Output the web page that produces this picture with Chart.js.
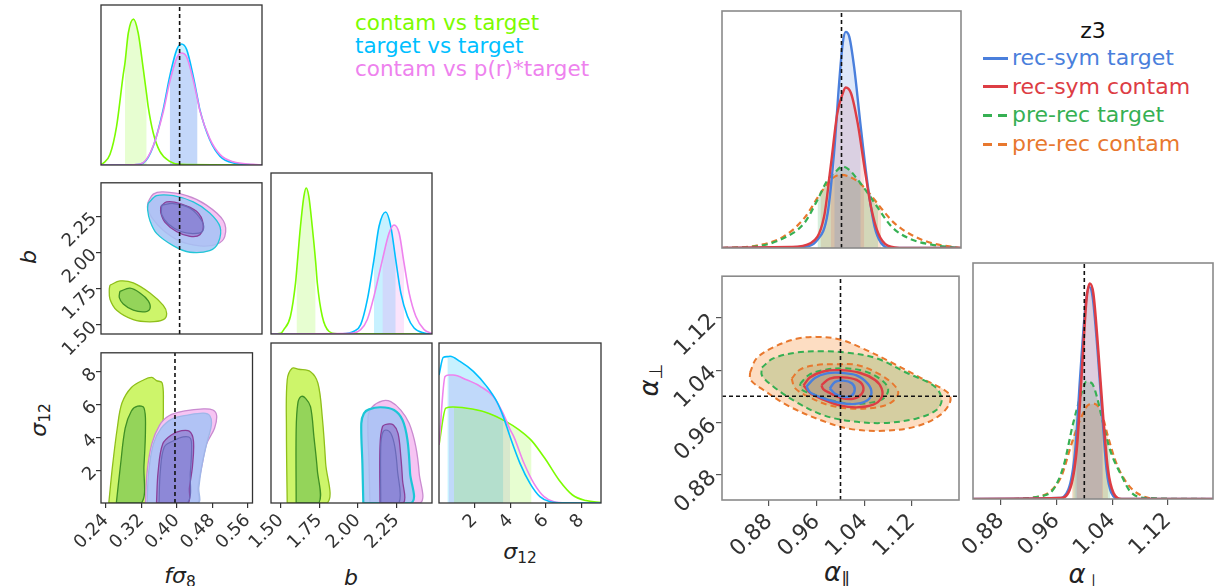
<!DOCTYPE html>
<html>
<head>
<meta charset="utf-8">
<script src="https://cdn.jsdelivr.net/npm/chart.js@4.4.1/dist/chart.umd.min.js"></script>
<style>
  html, body { margin: 0; padding: 0; background: #fff; }
  body { position: relative; width: 1223px; height: 586px; overflow: hidden; font-family: "DejaVu Sans", sans-serif; }
  .panel { position: absolute; }
  .txt { position: absolute; white-space: nowrap; color: #222; }
  .lab { position: absolute; white-space: nowrap; color: #222; transform: translate(-50%, -50%); }
  .lab.rot { transform: translate(-50%, -50%) rotate(-90deg); }
  .lab sub { font-size: 70%; vertical-align: -0.25em; font-style: normal; }
  .leg-l { left: 355px; top: 11px; font-size: 21.5px; line-height: 23px; }
  .leg-r { left: 983px; top: 44px; font-size: 22px; line-height: 28.7px; }
  .mk { display: inline-block; width: 25px; height: 3px; vertical-align: middle; margin-right: 4px; position: relative; top: -1px; }
</style>
</head>
<body>

<div class="txt leg-l">
  <div style="color:#7cfc00">contam vs target</div>
  <div style="color:#00bfff">target vs target</div>
  <div style="color:#ee82ee">contam vs p(r)*target</div>
</div>

<div class="lab" style="left:1093px;top:30px;font-size:22px;color:#111">z3</div>
<div class="txt leg-r">
  <div style="color:#4a7fdc"><span class="mk" style="background:#4a7fdc"></span>rec-sym target</div>
  <div style="color:#dd3d44"><span class="mk" style="background:#dd3d44"></span>rec-sym contam</div>
  <div style="color:#36b053"><span class="mk" style="background:repeating-linear-gradient(90deg,#36b053 0 9px,transparent 9px 15px)"></span>pre-rec target</div>
  <div style="color:#e8782e"><span class="mk" style="background:repeating-linear-gradient(90deg,#e8782e 0 9px,transparent 9px 15px)"></span>pre-rec contam</div>
</div>

<div class="lab" style="left:180px;top:577px;font-size:22px"><i>fσ</i><sub>8</sub></div>
<div class="lab" style="left:351px;top:577px;font-size:22px"><i>b</i></div>
<div class="lab" style="left:520px;top:553px;font-size:22px"><i>σ</i><sub>12</sub></div>
<div class="lab rot" style="left:28px;top:257px;font-size:22px"><i>b</i></div>
<div class="lab rot" style="left:40px;top:420px;font-size:22px"><i>σ</i><sub>12</sub></div>
<div class="lab rot" style="left:650px;top:380px;font-size:26px"><i>α</i><sub>⊥</sub></div>
<div class="lab" style="left:837px;top:573px;font-size:26px"><i>α</i><sub>∥</sub></div>
<div class="lab" style="left:1085px;top:575px;font-size:26px"><i>α</i><sub>⊥</sub></div>

<script>
// ---- axis ranges and ticks ----
const fsRange = [0.229, 0.571], bRange = [1.437, 2.48], s12RangeY = [0, 9.14], s12RangeX = [0, 9.1];
const aparRange = [0.801, 1.199], aperpRange = [0.841, 1.184], aperpRangeX = [0.84, 1.185];
const fsTicks = [0.24, 0.32, 0.40, 0.48, 0.56];
const bTicks = [1.50, 1.75, 2.00, 2.25];
const s12Ticks = [2, 4, 6, 8];
const alphaTicks = [0.88, 0.96, 1.04, 1.12];
const fsTruth = 0.396, alphaTruth = 1.0;

// ---- 1D: f sigma8 ----
const fsGreenX = [0.229, 0.234, 0.248, 0.262, 0.276, 0.280, 0.287, 0.298, 0.308, 0.319, 0.326, 0.329, 0.340, 0.354, 0.375, 0.397, 0.571];
const fsGreenY = [0.003, 0.012, 0.065, 0.24, 0.56, 0.64, 0.825, 0.912, 0.825, 0.596, 0.44, 0.37, 0.2, 0.085, 0.023, 0.004, 0];
const fsX = [0.229, 0.300, 0.319, 0.340, 0.361, 0.375, 0.390, 0.400, 0.411, 0.425, 0.434, 0.439, 0.460, 0.482, 0.510, 0.552, 0.571];
const fsBlueY = [0, 0.001, 0.0125, 0.117, 0.346, 0.554, 0.721, 0.756, 0.721, 0.554, 0.42, 0.346, 0.158, 0.054, 0.0125, 0.002, 0];
const fsPinkY = [0, 0.002, 0.015, 0.12, 0.33, 0.52, 0.67, 0.70, 0.675, 0.53, 0.41, 0.34, 0.165, 0.065, 0.02, 0.004, 0];

// ---- 1D: b ----
const bGreenX = [1.437, 1.50, 1.52, 1.563, 1.596, 1.602, 1.628, 1.65, 1.665, 1.682, 1.704, 1.726, 1.737, 1.769, 1.812, 1.867, 2.48];
const bGreenY = [0, 0.004, 0.027, 0.11, 0.317, 0.38, 0.669, 0.855, 0.907, 0.855, 0.669, 0.45, 0.317, 0.11, 0.017, 0.002, 0];
const bBlueX = [1.437, 1.90, 1.975, 2.018, 2.061, 2.104, 2.137, 2.180, 2.213, 2.245, 2.278, 2.321, 2.364, 2.429, 2.48];
const bBlueY = [0, 0.001, 0.017, 0.058, 0.213, 0.462, 0.669, 0.758, 0.669, 0.462, 0.255, 0.11, 0.037, 0.006, 0.001];
const bPinkX = [1.437, 1.95, 2.018, 2.061, 2.104, 2.159, 2.202, 2.234, 2.267, 2.299, 2.332, 2.375, 2.429, 2.48];
const bPinkY = [0, 0.004, 0.027, 0.09, 0.234, 0.462, 0.627, 0.677, 0.627, 0.44, 0.255, 0.11, 0.027, 0.003];

// ---- 1D: sigma12 ----
const sBlueX = [0, 0.24, 0.47, 0.62, 1.18, 1.93, 2.68, 3.24, 3.61, 3.99, 4.55, 5.11, 5.67, 6.24, 7.0, 9.1];
const sBlueY = [0.8, 0.91, 0.915, 0.917, 0.885, 0.823, 0.729, 0.635, 0.54, 0.415, 0.248, 0.123, 0.04, 0.008, 0.001, 0];
const sPinkX = [0, 0.34, 0.56, 0.8, 1.55, 2.3, 3.05, 3.6, 3.99, 4.2, 4.77, 5.33, 5.9, 6.46, 7.2, 9.1];
const sPinkY = [0.363, 0.79, 0.80, 0.80, 0.77, 0.73, 0.666, 0.56, 0.46, 0.415, 0.25, 0.123, 0.04, 0.008, 0.001, 0];
const sGreenX = [0, 0.38, 0.75, 0.84, 1.87, 2.81, 3.75, 4.5, 5.2, 6.0, 6.74, 7.5, 8.25, 9.1];
const sGreenY = [0.363, 0.593, 0.6, 0.6, 0.587, 0.56, 0.51, 0.457, 0.39, 0.27, 0.144, 0.05, 0.015, 0.002];

// ---- 2D: b vs f sigma8 ----
const bfGreenOut = [[0.2481,1.774],[0.2693,1.803],[0.2976,1.790],[0.333,1.720],[0.3613,1.634],[0.3685,1.579],[0.3613,1.536],[0.333,1.521],[0.2976,1.536],[0.2623,1.601],[0.2481,1.677],[0.2466,1.742]];
const bfGreenIn = [[0.269,1.731],[0.2906,1.753],[0.3118,1.720],[0.3294,1.666],[0.333,1.612],[0.3224,1.590],[0.2976,1.601],[0.2763,1.644],[0.2679,1.688]];
const bfBlueOut = [[0.329,2.337],[0.347,2.391],[0.383,2.391],[0.425,2.348],[0.460,2.272],[0.482,2.175],[0.478,2.066],[0.460,2.012],[0.418,2.001],[0.383,2.045],[0.347,2.131],[0.333,2.218],[0.328,2.294]];
const bfPinkOut = [[0.329,2.348],[0.340,2.402],[0.361,2.417],[0.411,2.391],[0.453,2.326],[0.489,2.218],[0.492,2.110],[0.475,2.056],[0.439,2.045],[0.397,2.077],[0.361,2.153],[0.337,2.240],[0.328,2.305]];
const bfBlueIn = [[0.358,2.326],[0.383,2.337],[0.418,2.305],[0.443,2.218],[0.446,2.153],[0.432,2.131],[0.400,2.142],[0.372,2.196],[0.358,2.261]];
const bfPinkIn = [[0.356,2.316],[0.368,2.348],[0.397,2.337],[0.432,2.283],[0.446,2.196],[0.439,2.121],[0.418,2.110],[0.390,2.142],[0.365,2.207],[0.356,2.272]];

// ---- 2D: sigma12 vs f sigma8 ----
const sfGreenOut = [[0.2466,0],[0.2551,2.27],[0.2657,4.55],[0.2763,6.08],[0.2976,7.03],[0.3260,7.50],[0.3437,7.64],[0.3543,7.45],[0.3670,7.31],[0.3698,6.08],[0.3685,4.17],[0.3670,1.89],[0.3670,0]];
const sfGreenIn = [[0.2636,0],[0.2729,2.27],[0.2836,4.55],[0.2976,5.6],[0.3118,5.89],[0.326,5.79],[0.3294,4.55],[0.326,2.27],[0.3203,0]];
const sfPinkOut = [[0.3294,0],[0.333,1.89],[0.3437,3.6],[0.3613,4.74],[0.3825,5.31],[0.418,5.6],[0.4604,5.73],[0.4817,5.66],[0.4901,5.31],[0.4853,4.55],[0.4675,3.6],[0.4568,2.27],[0.4477,0.93],[0.4462,0]];
const sfBlueOut = [[0.333,0],[0.3366,1.89],[0.3473,3.6],[0.3649,4.55],[0.3897,5.12],[0.4250,5.35],[0.4604,5.47],[0.4747,5.31],[0.4781,4.74],[0.4675,3.6],[0.4568,2.27],[0.4498,0.93],[0.4477,0]];
const sfPinkIn = [[0.3543,0],[0.3579,1.89],[0.3685,3.6],[0.3897,4.17],[0.411,4.4],[0.4286,4.36],[0.4377,3.79],[0.4356,2.27],[0.4286,0.93],[0.425,0]];
const sfBlueIn = [[0.36,0],[0.3628,1.89],[0.3719,3.41],[0.3931,3.79],[0.4144,4.02],[0.4307,3.94],[0.4335,3.22],[0.4307,1.89],[0.4237,0]];

// ---- 2D: sigma12 vs b ----
const sbGreenOut = [[1.542,0],[1.537,4.17],[1.542,7.03],[1.574,7.7],[1.617,7.64],[1.693,7.5],[1.741,6.84],[1.769,4.93],[1.791,2.27],[1.802,0]];
const sbGreenIn = [[1.6,0],[1.6,4.17],[1.611,5.7],[1.632,6.08],[1.661,5.98],[1.693,5.5],[1.715,3.79],[1.737,1.89],[1.747,0]];
const sbBlueOut = [[2.035,0],[2.029,2.27],[2.022,4.55],[2.039,5.12],[2.072,5.35],[2.148,5.47],[2.234,5.31],[2.289,4.74],[2.321,3.6],[2.338,1.7],[2.347,0]];
const sbPinkOut = [[2.078,0],[2.072,2.27],[2.066,4.93],[2.094,5.5],[2.159,5.84],[2.213,5.79],[2.278,5.31],[2.332,4.55],[2.375,3.22],[2.397,1.7],[2.403,0]];
const sbPinkIn = [[2.143,0],[2.143,3.22],[2.159,4.36],[2.191,4.51],[2.23,4.46],[2.26,3.98],[2.278,2.65],[2.289,1.31],[2.295,0]];
const sbBlueIn = [[2.148,0],[2.148,3.22],[2.159,3.98],[2.181,4.17],[2.213,3.98],[2.239,3.22],[2.256,1.89],[2.266,0]];

// ---- right: 1D alpha_par ----
const apBlueX = [0.801, 0.932, 0.960, 0.977, 0.988, 0.996, 1.002, 1.007, 1.013, 1.021, 1.032, 1.044, 1.055, 1.066, 1.083, 1.199];
const apBlueY = [0, 0.004, 0.035, 0.147, 0.414, 0.694, 0.863, 0.912, 0.891, 0.764, 0.512, 0.259, 0.091, 0.021, 0, 0];
const apRedX = [0.801, 0.915, 0.949, 0.971, 0.982, 0.993, 1.002, 1.007, 1.016, 1.027, 1.038, 1.049, 1.061, 1.077, 1.105, 1.199];
const apRedY = [0, 0.004, 0.021, 0.133, 0.344, 0.568, 0.652, 0.677, 0.652, 0.526, 0.344, 0.175, 0.063, 0.01, 0, 0];
const apGreenX = [0.801, 0.859, 0.904, 0.938, 0.960, 0.977, 0.988, 1.002, 1.013, 1.027, 1.044, 1.061, 1.083, 1.111, 1.150, 1.199];
const apGreenY = [0, 0.007, 0.042, 0.105, 0.203, 0.288, 0.316, 0.344, 0.33, 0.288, 0.231, 0.168, 0.091, 0.042, 0.014, 0];
const apOrangeX = [0.801, 0.859, 0.904, 0.938, 0.965, 0.982, 0.999, 1.010, 1.027, 1.044, 1.066, 1.088, 1.116, 1.150, 1.199];
const apOrangeY = [0, 0.01, 0.049, 0.126, 0.231, 0.288, 0.309, 0.304, 0.281, 0.238, 0.168, 0.105, 0.056, 0.021, 0];

// ---- right: 1D alpha_perp ----
const aqRedX = [0.84, 0.965, 0.979, 0.989, 0.996, 1.003, 1.008, 1.013, 1.020, 1.027, 1.034, 1.042, 1.054, 1.185];
const aqRedY = [0, 0.004, 0.039, 0.208, 0.518, 0.842, 0.913, 0.870, 0.631, 0.349, 0.124, 0.025, 0, 0];
const aqBlueX = [0.84, 0.963, 0.977, 0.987, 0.994, 1.002, 1.007, 1.012, 1.019, 1.026, 1.032, 1.039, 1.051, 1.185];
const aqBlueY = [0, 0.004, 0.039, 0.208, 0.518, 0.828, 0.899, 0.856, 0.631, 0.349, 0.124, 0.025, 0, 0];
const aqGreenX = [0.84, 0.888, 0.936, 0.955, 0.970, 0.984, 0.996, 1.003, 1.011, 1.018, 1.027, 1.037, 1.054, 1.066, 1.090, 1.185];
const aqGreenY = [0, 0, 0.011, 0.039, 0.138, 0.321, 0.448, 0.497, 0.49, 0.434, 0.321, 0.208, 0.096, 0.032, 0.004, 0];
const aqOrangeX = [0.84, 0.888, 0.931, 0.951, 0.967, 0.982, 0.996, 1.006, 1.015, 1.025, 1.034, 1.046, 1.061, 1.080, 1.109, 1.185];
const aqOrangeY = [0, 0, 0.008, 0.032, 0.096, 0.237, 0.349, 0.399, 0.403, 0.363, 0.265, 0.152, 0.068, 0.018, 0, 0];

// ---- right: 2D alpha_perp vs alpha_par ----
const aaOrangeOut = [[0.848,1.036],[0.859,1.058],[0.887,1.075],[0.926,1.088],[0.960,1.091],[0.999,1.087],[1.038,1.073],[1.083,1.053],[1.133,1.029],[1.181,1.005],[1.184,0.991],[1.167,0.971],[1.128,0.954],[1.072,0.947],[1.016,0.950],[0.971,0.962],[0.915,0.984],[0.870,1.010],[0.849,1.025]];
const aaGreenOut = [[0.868,1.044],[0.887,1.058],[0.926,1.067],[0.971,1.069],[1.010,1.067],[1.061,1.058],[1.111,1.036],[1.158,1.015],[1.170,0.995],[1.161,0.979],[1.128,0.966],[1.072,0.959],[1.016,0.962],[0.971,0.971],[0.926,0.991],[0.887,1.015],[0.868,1.032]];
const aaOrangeIn = [[0.918,1.027],[0.932,1.041],[0.960,1.048],[0.993,1.049],[1.027,1.048],[1.061,1.036],[1.088,1.019],[1.097,1.005],[1.086,0.991],[1.061,0.983],[1.021,0.981],[0.982,0.986],[0.949,0.998],[0.924,1.012]];
const aaGreenIn = [[0.932,1.019],[0.949,1.034],[0.977,1.041],[1.005,1.043],[1.038,1.039],[1.066,1.027],[1.080,1.012],[1.074,0.998],[1.055,0.991],[1.021,0.988],[0.988,0.993],[0.954,1.003],[0.935,1.010]];
const aaRedOut = [[0.938,1.017],[0.949,1.029],[0.971,1.038],[0.999,1.040],[1.032,1.036],[1.058,1.025],[1.069,1.012],[1.069,0.998],[1.055,0.987],[1.027,0.983],[0.999,0.986],[0.971,0.995],[0.949,1.005]];
const aaBlueOut = [[0.943,1.015],[0.957,1.028],[0.977,1.035],[0.999,1.036],[1.027,1.032],[1.046,1.019],[1.052,1.005],[1.044,0.993],[1.021,0.988],[0.993,0.991],[0.968,0.998],[0.949,1.006]];
const aaRedIn = [[0.968,1.017],[0.982,1.027],[1.005,1.029],[1.027,1.025],[1.038,1.015],[1.035,1.003],[1.021,0.996],[0.999,0.998],[0.982,1.005],[0.971,1.011]];
const aaBlueIn = [[0.982,1.012],[0.991,1.022],[1.005,1.024],[1.019,1.020],[1.024,1.011],[1.019,1.001],[1.005,0.999],[0.991,1.004]];

// ---- colours ----
const C = {
  lime: "#7cfc00", sky: "#00bfff", violet: "#ee82ee",
  blue: "#4a7fdc", red: "#dd3d44", green: "#36b053", orange: "#e8782e",
};

// ---- dataset helpers ----
const xy = (xs, ys) => xs.map((x, i) => ({ x, y: ys[i] }));
const closed = (a) => a.concat([a[0]]).map(([x, y]) => ({ x, y }));
const base = { showLine: true, pointRadius: 0, pointHoverRadius: 0 };

function curve(xs, ys, color, w, dash) {
  return { ...base, data: xy(xs, ys), borderColor: color, borderWidth: w, borderDash: dash || [], fill: false, cubicInterpolationMode: "monotone" };
}
function band(xs, ys, lo, hi, color) {
  const d = xy(xs, ys).filter(p => p.x >= lo - 1e-9 && p.x <= hi + 1e-9);
  return { ...base, data: d, borderWidth: 0, borderColor: "transparent", backgroundColor: color, fill: "origin", cubicInterpolationMode: "monotone" };
}
function contour(a, line, fillc, w, dash) {
  return { ...base, data: closed(a), borderColor: line, backgroundColor: fillc, borderWidth: w, borderDash: dash || [], fill: "shape", tension: 0.35 };
}
function vline(v, r) {
  return { ...base, data: [{ x: v, y: r[0] }, { x: v, y: r[1] }], borderColor: "#111", borderWidth: 1.6, borderDash: [4, 3], fill: false, tension: 0 };
}
function hline(v, r) {
  return { ...base, data: [{ x: r[0], y: v }, { x: r[1], y: v }], borderColor: "#111", borderWidth: 1.6, borderDash: [4, 3], fill: false, tension: 0 };
}

// ---- full box round each panel ----
const frame = {
  id: "frame",
  afterDatasetsDraw(ch, args, o) {
    const a = ch.chartArea, g = ch.ctx;
    g.save();
    g.strokeStyle = o.color; g.lineWidth = o.width;
    g.strokeRect(a.left, a.top, a.right - a.left, a.bottom - a.top);
    g.restore();
  },
};

const ML = 80, MB = 80, MT = 3, MR = 3;
function axis(a, horiz) {
  return {
    type: "linear", min: a.range[0], max: a.range[1],
    afterFit: (s) => { if (horiz) s.height = MB; else s.width = ML; },
    afterBuildTicks: (s) => { s.ticks = (a.ticks || []).map(v => ({ value: v })); },
    border: { display: false },
    grid: { display: !!a.ticks, drawOnChartArea: false, drawTicks: true, tickLength: a.tickLen || 5, color: a.tickColor || "#333", lineWidth: 1.2 },
    ticks: {
      display: !!a.fmt, minRotation: 45, maxRotation: 45, padding: a.pad || 2,
      color: "#333", font: { family: "DejaVu Sans", size: a.font || 18 },
      callback: (v) => a.fmt ? a.fmt(v) : "",
    },
  };
}
function panel(rect, x, y, sets, frameStyle) {
  const [L, T, W, H] = rect;
  const wrap = document.createElement("div");
  wrap.className = "panel";
  wrap.style.left = (L - ML) + "px";
  wrap.style.top = (T - MT) + "px";
  const cv = document.createElement("canvas");
  cv.width = W + ML + MR; cv.height = H + MT + MB;
  wrap.appendChild(cv);
  document.body.appendChild(wrap);
  new Chart(cv, {
    type: "line",
    data: { datasets: sets.slice().reverse() },  // first listed = bottom layer
    options: {
      responsive: false, animation: false, events: [], devicePixelRatio: 1,
      layout: { padding: { top: MT, right: MR, left: 0, bottom: 0 } },
      plugins: { legend: { display: false }, tooltip: { enabled: false }, frame: frameStyle },
      scales: { x: axis(x, true), y: axis(y, false) },
    },
    plugins: [frame],
  });
}

const f2 = (v) => v.toFixed(2), f0 = (v) => String(v);
const unit = [0, 1];
const LF = { color: "#333", width: 1.3 }, RF = { color: "#8a8a8a", width: 1.6 };

// ---------- left corner ----------
panel([101, 5, 161, 160], { range: fsRange }, { range: unit }, [
  band(fsGreenX, fsGreenY, 0.280, 0.326, "rgba(124,252,0,0.18)"),
  band(fsX, fsBlueY, 0.375, 0.434, "rgba(0,191,255,0.2)"),
  band(fsX, fsPinkY, 0.375, 0.434, "rgba(160,120,230,0.22)"),
  curve(fsGreenX, fsGreenY, C.lime, 1.6),
  curve(fsX, fsBlueY, C.sky, 1.6),
  curve(fsX, fsPinkY, C.violet, 1.6),
  vline(fsTruth, unit),
], LF);

panel([101, 173, 161, 161], { range: fsRange }, { range: bRange, ticks: bTicks, fmt: f2 }, [
  contour(bfGreenOut, "#8fbf1a", "#cdf56a", 1.3),
  contour(bfGreenIn, "#3f8f25", "rgba(110,190,80,0.6)", 1.3),
  contour(bfPinkOut, "#c98bd0", "rgba(246,196,243,1)", 1.3),
  contour(bfBlueOut, "#22c6d6", "rgba(165,195,245,0.85)", 1.3),
  contour(bfPinkIn, "#8a3f99", "rgba(140,110,200,0.6)", 1.3),
  contour(bfBlueIn, "#6a6ab8", "rgba(110,120,210,0.3)", 1.2),
  vline(fsTruth, bRange),
], LF);

panel([271, 173, 161, 161], { range: bRange }, { range: unit }, [
  band(bGreenX, bGreenY, 1.602, 1.726, "rgba(124,252,0,0.18)"),
  band(bBlueX, bBlueY, 2.104, 2.245, "rgba(0,191,255,0.22)"),
  band(bPinkX, bPinkY, 2.159, 2.299, "rgba(238,130,238,0.22)"),
  curve(bGreenX, bGreenY, C.lime, 1.6),
  curve(bBlueX, bBlueY, C.sky, 1.6),
  curve(bPinkX, bPinkY, C.violet, 1.6),
], LF);

panel([101, 343, 161, 160], { range: fsRange, ticks: fsTicks, fmt: f2 }, { range: s12RangeY, ticks: s12Ticks, fmt: f0 }, [
  contour(sfGreenOut, "#8fbf1a", "#cdf56a", 1.3),
  contour(sfGreenIn, "#3f8f25", "rgba(110,190,80,0.6)", 1.3),
  contour(sfPinkOut, "#c98bd0", "rgba(246,196,243,1)", 1.3),
  contour(sfBlueOut, "#9fb6e8", "rgba(165,195,245,0.85)", 1.3),
  contour(sfPinkIn, "#8a3f99", "rgba(140,110,200,0.6)", 1.3),
  contour(sfBlueIn, "#6a6ab8", "rgba(110,120,210,0.3)", 1.2),
  vline(fsTruth, s12RangeY),
], LF);

panel([271, 343, 161, 160], { range: bRange, ticks: bTicks, fmt: f2 }, { range: s12RangeY }, [
  contour(sbGreenOut, "#8fbf1a", "#cdf56a", 1.3),
  contour(sbGreenIn, "#3f8f25", "rgba(110,190,80,0.6)", 1.3),
  contour(sbPinkOut, "#c98bd0", "rgba(246,196,243,1)", 1.3),
  contour(sbBlueOut, "#1cc6d6", "rgba(165,195,245,0.85)", 2.2),
  contour(sbPinkIn, "#8a3f99", "rgba(140,110,200,0.6)", 1.3),
  contour(sbBlueIn, "#6a6ab8", "rgba(110,120,210,0.3)", 1.2),
], LF);

panel([439, 343, 162, 160], { range: s12RangeX, ticks: s12Ticks, fmt: f0 }, { range: unit }, [
  band(sBlueX, sBlueY, 0.47, 3.61, "rgba(0,191,255,0.22)"),
  band(sPinkX, sPinkY, 0.56, 3.99, "rgba(160,120,230,0.2)"),
  band(sGreenX, sGreenY, 0.84, 5.2, "rgba(124,252,0,0.18)"),
  curve(sGreenX, sGreenY, C.lime, 1.6),
  curve(sPinkX, sPinkY, C.violet, 1.6),
  curve(sBlueX, sBlueY, C.sky, 1.6),
], LF);

// ---------- right corner ----------
const RT = { tickColor: "#555", tickLen: 6, font: 22, pad: 3 };
panel([722, 11, 239, 237], { range: aparRange }, { range: unit }, [
  band(apOrangeX, apOrangeY, 0.965, 1.066, "rgba(232,120,46,0.22)"),
  band(apGreenX, apGreenY, 0.960, 1.061, "rgba(54,176,83,0.2)"),
  band(apRedX, apRedY, 0.982, 1.038, "rgba(221,61,68,0.15)"),
  band(apBlueX, apBlueY, 0.988, 1.032, "rgba(74,127,220,0.18)"),
  curve(apOrangeX, apOrangeY, C.orange, 2.2, [6, 4]),
  curve(apGreenX, apGreenY, C.green, 2.2, [6, 4]),
  curve(apBlueX, apBlueY, C.blue, 2.4),
  curve(apRedX, apRedY, C.red, 2.4),
  vline(alphaTruth, unit),
], RF);

panel([722, 263, 237, 237], { range: aparRange, ticks: alphaTicks, fmt: f2, ...RT }, { range: aperpRange, ticks: alphaTicks, fmt: f2, ...RT }, [
  contour(aaOrangeOut, C.orange, "rgba(250,180,120,0.45)", 2, [6, 4]),
  contour(aaGreenOut, C.green, "rgba(140,180,100,0.35)", 2, [6, 4]),
  contour(aaOrangeIn, C.orange, "rgba(210,150,100,0.25)", 2, [6, 4]),
  contour(aaGreenIn, C.green, "rgba(140,160,100,0.25)", 2, [6, 4]),
  contour(aaRedOut, C.red, "rgba(200,110,110,0.15)", 2.4),
  contour(aaBlueOut, C.blue, "rgba(120,130,200,0.12)", 2.4),
  contour(aaRedIn, C.red, "rgba(170,120,130,0.2)", 2.4),
  contour(aaBlueIn, C.blue, "rgba(150,130,160,0.2)", 2.4),
  vline(alphaTruth, aperpRange),
  hline(alphaTruth, aparRange),
], RF);

panel([973, 263, 240, 236], { range: aperpRangeX, ticks: alphaTicks, fmt: f2, ...RT }, { range: unit }, [
  band(aqOrangeX, aqOrangeY, 0.982, 1.034, "rgba(232,120,46,0.22)"),
  band(aqGreenX, aqGreenY, 0.984, 1.037, "rgba(54,176,83,0.2)"),
  band(aqBlueX, aqBlueY, 0.987, 1.026, "rgba(74,127,220,0.18)"),
  band(aqRedX, aqRedY, 0.989, 1.027, "rgba(221,61,68,0.15)"),
  curve(aqOrangeX, aqOrangeY, C.orange, 2.2, [6, 4]),
  curve(aqGreenX, aqGreenY, C.green, 2.2, [6, 4]),
  curve(aqBlueX, aqBlueY, C.blue, 2.4),
  curve(aqRedX, aqRedY, C.red, 2.6),
  vline(alphaTruth, unit),
], RF);
</script>
</body>
</html>
